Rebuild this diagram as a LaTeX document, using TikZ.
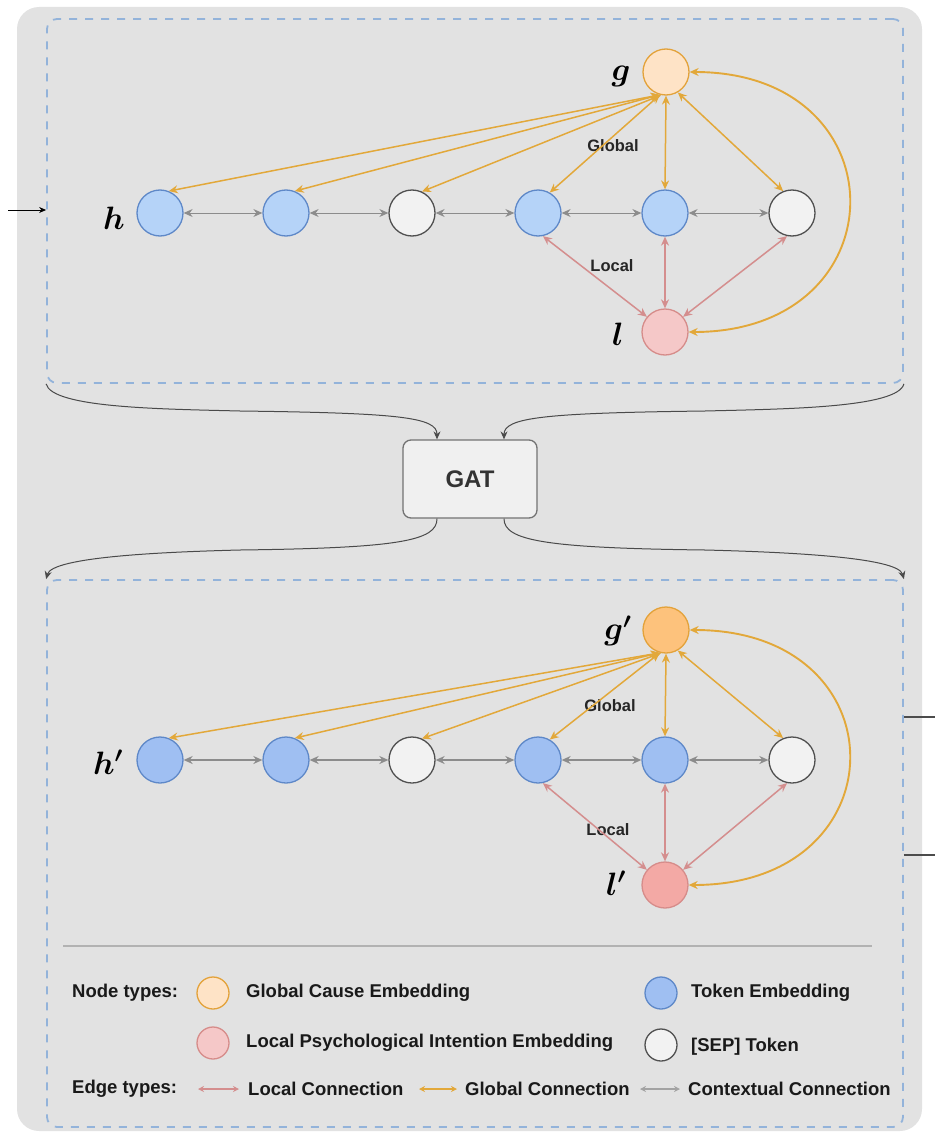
\documentclass[tikz,border=0pt]{standalone}
\usepackage{graphicx}
\usepackage{fontspec}
\usepackage{bm}
\usetikzlibrary{arrows.meta,calc}
\newfontfamily\lsans{Liberation Sans}
\newcommand{\biglab}[1]{\scalebox{1.3}{$\bm{#1}$}}
\definecolor{bggray}{HTML}{E2E2E2}
\definecolor{dashblue}{HTML}{93B3DA}
\definecolor{tokf}{HTML}{B5D3F8}
\definecolor{tokfb}{HTML}{9FBFF2}
\definecolor{tokd}{HTML}{5E88C8}
\definecolor{glf}{HTML}{FEE3C6}
\definecolor{glfb}{HTML}{FDC27C}
\definecolor{gld}{HTML}{E3A23A}
\definecolor{lof}{HTML}{F5C8C8}
\definecolor{lofb}{HTML}{F3A9A5}
\definecolor{lod}{HTML}{D68C8A}
\definecolor{sepf}{HTML}{F2F2F2}
\definecolor{sepd}{HTML}{505050}
\definecolor{globc}{HTML}{E2A83A}
\definecolor{locc}{HTML}{D48E8E}
\definecolor{ctxc}{HTML}{8C8C8C}
\definecolor{conn}{HTML}{4A4A4A}
\begin{document}
\begin{tikzpicture}[x=1pt,y=-1pt,
  nd/.style={circle, minimum size=46pt, inner sep=0pt, line width=1.3pt},
  tokA/.style={nd, draw=tokd, fill=tokf},
  tokB/.style={nd, draw=tokd, fill=tokfb},
  sepA/.style={nd, draw=sepd, fill=sepf},
  gA/.style={nd, draw=gld, fill=glf},
  gB/.style={nd, draw=gld, fill=glfb},
  lA/.style={nd, draw=lod, fill=lof},
  lB/.style={nd, draw=lod, fill=lofb},
  leg/.style={circle, minimum size=32pt, inner sep=0pt, line width=1.3pt},
  tip/.style={{Stealth[length=9pt,width=8pt,inset=3pt]}-{Stealth[length=9pt,width=8pt,inset=3pt]}},
  smalltip/.style={{Stealth[length=6pt,width=6pt,inset=2pt]}-{Stealth[length=6pt,width=6pt,inset=2pt]}},
  ctxA/.style={tip, draw=ctxc, line width=0.9pt},
  ctxB/.style={tip, draw=ctxc, line width=2pt},
  glob/.style={tip, draw=globc, line width=1.5pt},
  globarc/.style={tip, draw=globc, line width=1.9pt},
  locl/.style={tip, draw=locc, line width=1.5pt},
  dbox/.style={draw=dashblue, line width=1.8pt, dash pattern=on 8pt off 8pt, rounded corners=10pt, inner sep=0pt},
  mlab/.style={font=\fontsize{24}{28}\selectfont, inner sep=0pt},
  elab/.style={font=\lsans\bfseries\fontsize{16.5}{18}\selectfont, inner sep=0pt, text=black!85},
  legtxt/.style={font=\lsans\bfseries\fontsize{18.5}{21}\selectfont, inner sep=0pt, anchor=west, text=black!90},
  connarrow/.style={draw=conn, line width=1pt, -{Stealth[length=8pt,width=7pt]}}
]
\useasboundingbox (0,0) rectangle (935,1132);
\path[fill=bggray, rounded corners=22pt] (17,7) rectangle (922,1131);

% dashed boxes
\node[dbox, minimum width=856pt, minimum height=364pt] (top) at (475,201) {};
\node[dbox, minimum width=856pt, minimum height=547pt] (bot) at (475,853.5) {};

% ---------- top graph ----------
\node[tokA] (t1) at (160,213) {};
\node[tokA] (t2) at (286,213) {};
\node[sepA] (t3) at (412,213) {};
\node[tokA] (t4) at (538,213) {};
\node[tokA] (t5) at (665,213) {};
\node[sepA] (t6) at (792,213) {};
\node[gA] (g) at (666,72) {};
\node[lA] (l) at (665,332) {};
\node[mlab] (hlab) at (114,218) {\biglab{h}};
\node[mlab] (glab) at (621,76) {\biglab{g}};
\node[mlab] (llab) at (618,334) {\biglab{l}};
\node[elab] (glob1) at (613,146) {Global};
\node[elab] (loc1) at (612,266) {Local};

\foreach \a/\b in {t1/t2,t2/t3,t3/t4,t4/t5,t5/t6}
  \draw[ctxA] (\a) -- (\b);
\draw[glob] (g.255) -- (t1.68);
\draw[glob] (g.255) -- (t2.68);
\draw[glob] (g.258) -- (t3.65);
\draw[glob] (g.255) -- (t4.60);
\draw[glob] (g.south) -- (t5.north);
\draw[glob] (g.-60) -- (t6.112);
\draw[locl] (l.140) -- (t4.-78);
\draw[locl] (l.north) -- (t5.south);
\draw[locl] (l.40) -- (t6.-102);
\draw[globarc] (g.east) .. controls +(213,0) and +(213,0) .. (l.east);

% input arrow
\coordinate (inpt) at (8,210);
\draw[draw=black, line width=1pt, -{Stealth[length=7pt,width=6pt]}] (inpt) -- (inpt -| top.west);

% ---------- GAT ----------
\node[draw=black!55, fill=black!6, line width=1.3pt, rounded corners=8pt,
      minimum width=134pt, minimum height=78pt,
      font=\lsans\bfseries\fontsize{24}{28}\selectfont, text=black!80] (gat) at (470,479) {GAT};

\coordinate (gin1) at ($(gat.north)+(-33,0)$);
\coordinate (gin2) at ($(gat.north)+(34,0)$);
\coordinate (gout1) at ($(gat.south)+(-33,0)$);
\coordinate (gout2) at ($(gat.south)+(34,0)$);

\draw[connarrow] (top.south west) .. controls +(6,24) and +(-80,-2) .. (240,411)
                 .. controls +(160,2) and +(0,-22) .. (gin1);
\draw[connarrow] (top.south east) .. controls +(-6,24) and +(80,-2) .. (705,411)
                 .. controls +(-160,2) and +(0,-22) .. (gin2);
\draw[connarrow] (gout1) .. controls +(0,22) and +(160,-2) .. (240,550)
                 .. controls +(-80,2) and +(6,-22) .. (bot.north west);
\draw[connarrow] (gout2) .. controls +(0,22) and +(-160,-2) .. (705,550)
                 .. controls +(80,2) and +(-6,-22) .. (bot.north east);

% ---------- bottom graph ----------
\node[tokB] (b1) at (160,760) {};
\node[tokB] (b2) at (286,760) {};
\node[sepA] (b3) at (412,760) {};
\node[tokB] (b4) at (538,760) {};
\node[tokB] (b5) at (665,760) {};
\node[sepA] (b6) at (792,760) {};
\node[gB] (gp) at (666,630) {};
\node[lB] (lp) at (665,885) {};
\node[mlab] (hplab) at (108,762) {\biglab{h'}};
\node[mlab] (gplab) at (618,631) {\biglab{g'}};
\node[mlab] (lplab) at (616,883) {\biglab{l'}};
\node[elab] (glob2) at (610,706) {Global};
\node[elab] (loc2) at (608,830) {Local};

\foreach \a/\b in {b1/b2,b2/b3,b3/b4,b4/b5,b5/b6}
  \draw[ctxB] (\a) -- (\b);
\draw[glob] (gp.255) -- (b1.68);
\draw[glob] (gp.255) -- (b2.68);
\draw[glob] (gp.258) -- (b3.65);
\draw[glob] (gp.255) -- (b4.60);
\draw[glob] (gp.south) -- (b5.north);
\draw[glob] (gp.-60) -- (b6.112);
\draw[locl] (lp.140) -- (b4.-78);
\draw[locl] (lp.north) -- (b5.south);
\draw[locl] (lp.40) -- (b6.-102);
\draw[globarc] (gp.east) .. controls +(213,0) and +(213,0) .. (lp.east);

% output lines
\coordinate (out1) at (935,717);
\coordinate (out2) at (935,855);
\draw[draw=black!70, line width=1.2pt] (out1 -| bot.east) -- (out1);
\draw[draw=black!70, line width=1.2pt] (out2 -| bot.east) -- (out2);

% ---------- legend ----------
\coordinate (sepL) at (63,946);
\coordinate (sepR) at (872,946);
\draw[draw=black!30, line width=2pt] (sepL) -- (sepR);

\node[legtxt] (nt) at (72,993) {Node types:};
\node[leg, draw=gld, fill=glf] (lg1) at (213,993) {};
\node[legtxt] (lt1) at (246,993) {Global Cause Embedding};
\node[leg, draw=tokd, fill=tokfb] (lg2) at (661,993) {};
\node[legtxt] (lt2) at (691,993) {Token Embedding};
\node[leg, draw=lod, fill=lof] (lg3) at (213,1043) {};
\node[legtxt] (lt3) at (246,1043) {Local Psychological Intention Embedding};
\node[leg, draw=sepd, fill=sepf] (lg4) at (661,1045) {};
\node[legtxt] (lt4) at (691,1047) {[SEP] Token};

\node[legtxt] (et) at (72,1089) {Edge types:};
\coordinate (la1) at (198,1089); \coordinate (la2) at (239,1089);
\draw[smalltip, draw=locc, line width=1.4pt] (la1) -- (la2);
\node[legtxt] (lt5) at (248,1089) {Local Connection};
\coordinate (ga1) at (419,1089); \coordinate (ga2) at (457,1089);
\draw[smalltip, draw=globc, line width=1.4pt] (ga1) -- (ga2);
\node[legtxt] (lt6) at (465,1089) {Global Connection};
\coordinate (ca1) at (640,1089); \coordinate (ca2) at (680,1089);
\draw[smalltip, draw=ctxc!80, line width=1.2pt] (ca1) -- (ca2);
\node[legtxt] (lt7) at (688,1089) {Contextual Connection};
\end{tikzpicture}
\end{document}
